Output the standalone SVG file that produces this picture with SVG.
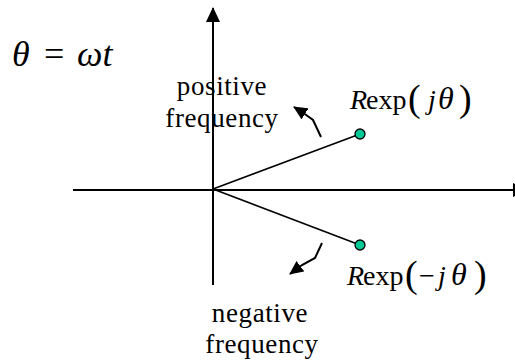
<svg xmlns="http://www.w3.org/2000/svg" width="515" height="363" viewBox="0 0 515 363">
<defs>
<style>
.ax{stroke:#000;stroke-width:2;fill:none}
.ln{stroke:#000;stroke-width:1.6;fill:none}
.cv{stroke:#000;stroke-width:2;fill:none}
.dot{fill:#00c896;stroke:#000;stroke-width:1.3}
text{font-family:'Liberation Serif','Times New Roman',serif;fill:#000}
.lbl{font-size:27px;letter-spacing:0.6px;text-anchor:middle}
.it{font-style:italic}
.par{font-size:38px}
.th{font-size:32px;font-style:italic}
</style>
<marker id="ah" viewBox="0 0 14 13" refX="13" refY="6.5" markerWidth="14" markerHeight="13" markerUnits="userSpaceOnUse" orient="auto">
<path d="M0,0 L14,6.5 L0,13 Z" fill="#000"/>
</marker>
<marker id="axh" viewBox="0 0 15 14" refX="14" refY="7" markerWidth="15" markerHeight="14" markerUnits="userSpaceOnUse" orient="auto">
<path d="M0,0 L15,7 L0,14 Z" fill="#000"/>
</marker>
</defs>
<g id="connectors">
<line class="ax" x1="213" y1="285" x2="213" y2="8" marker-end="url(#axh)"/>
<line class="ax" x1="73" y1="190" x2="527" y2="190" marker-end="url(#axh)"/>
<line class="ln" x1="213" y1="189" x2="360" y2="134"/>
<line class="ln" x1="213" y1="189" x2="360" y2="245"/>
<path class="cv" d="M321,137 L313,120 L302,112 L294,107" marker-end="url(#ah)"/>
<path class="cv" d="M322,243 L315,258 L302,265 L290,274" marker-end="url(#ah)"/>
</g>
<g id="node-pos"><circle class="dot" cx="360" cy="134" r="5"/></g>
<g id="node-neg"><circle class="dot" cx="360" cy="245" r="5"/></g>
<g id="label-theta">
<text y="66" font-size="36"><tspan class="it" x="12">θ</tspan><tspan x="44">=</tspan><tspan class="it" x="77">ωt</tspan></text>
</g>
<g id="label-positive">
<text class="lbl" x="222" y="95">positive</text>
<text class="lbl" x="222" y="127">frequency</text>
</g>
<g id="label-negative">
<text class="lbl" x="260" y="322">negative</text>
<text class="lbl" x="262" y="353">frequency</text>
</g>
<g id="label-rexp-pos">
<text y="109" font-size="28"><tspan class="it" x="350">R</tspan><tspan x="366">exp</tspan><tspan class="par" x="408" dy="2">(</tspan><tspan class="it" x="428" dy="-2">j</tspan><tspan class="th" x="438">θ</tspan><tspan class="par" x="459" dy="2">)</tspan></text>
</g>
<g id="label-rexp-neg">
<text y="285" font-size="28"><tspan class="it" x="347">R</tspan><tspan x="363">exp</tspan><tspan class="par" x="405" dy="2">(</tspan><tspan x="419" dy="-2">−</tspan><tspan class="it" x="438">j</tspan><tspan class="th" x="451">θ</tspan><tspan class="par" x="474" dy="2">)</tspan></text>
</g>
</svg>
